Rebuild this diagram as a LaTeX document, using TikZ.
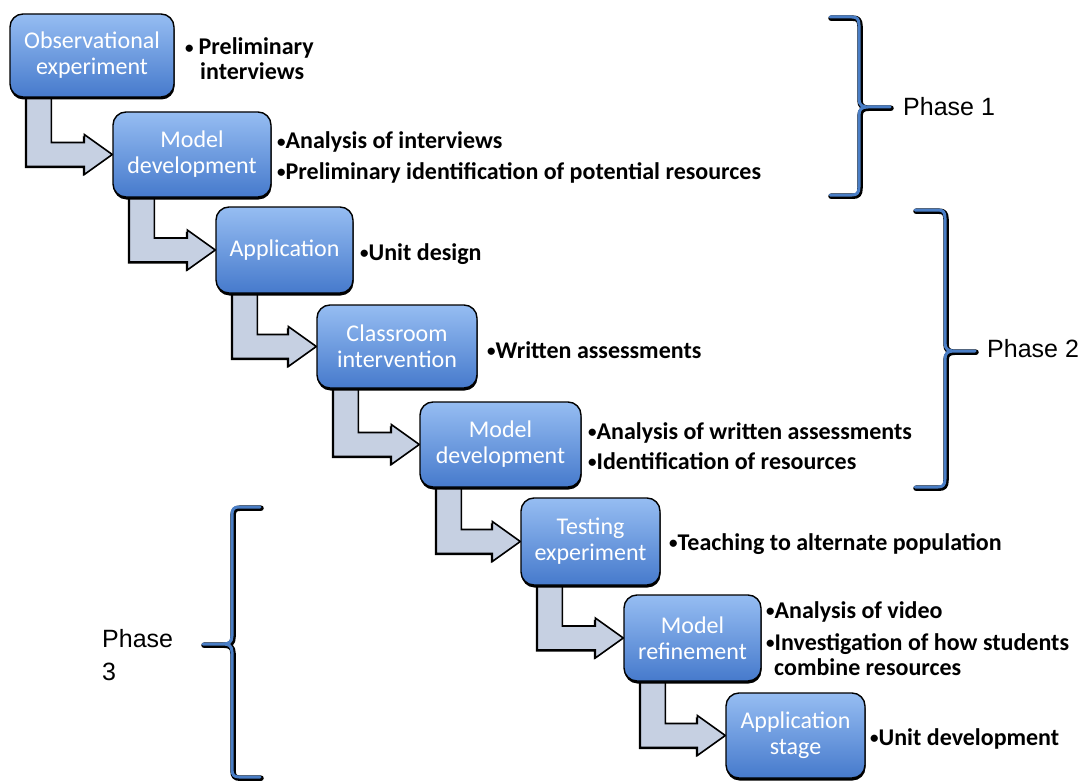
\documentclass[tikz,border=0pt]{standalone}
\usepackage{fontspec}
\setmainfont{Carlito}
\newfontfamily\phasefont{Liberation Sans}
\usetikzlibrary{calc,shadows,backgrounds}
\definecolor{boxtop}{RGB}{150,189,242}
\definecolor{boxbot}{RGB}{70,122,204}
\definecolor{arrowfill}{RGB}{198,208,226}
\definecolor{braceblue}{RGB}{74,126,198}
\newcommand\bul{\raisebox{1.2pt}{\fontsize{17}{17}\selectfont •}}
\tikzset{
  stagebox/.style={rounded corners=13pt, top color=boxtop, bottom color=boxbot,
    draw=black, line width=1.4pt,
    drop shadow={shadow xshift=0.5pt, shadow yshift=-2.5pt, fill=black, opacity=1},
    text=white, align=center, font=\fontsize{24}{26}\selectfont, inner sep=0pt},
  note/.style={anchor=base west, inner sep=0pt, font=\fontsize{24}{26}\selectfont\bfseries},
  phase/.style={anchor=base west, inner sep=0pt, font=\phasefont\fontsize{25}{30}\selectfont},
  elbow/.style={fill=arrowfill, draw=black, line width=1.6pt, line join=miter,
    drop shadow={shadow xshift=-1.5pt, shadow yshift=-1.5pt, fill=black, opacity=1}},
  braceback/.style={draw=black, line width=5.5pt, line cap=round, line join=round, xshift=1pt, yshift=-1.2pt},
  bracefront/.style={draw=braceblue, line width=3pt, line cap=round, line join=round},
}
\newcommand\elbowarrow[2]{%
  \path[elbow] let \p1=(#1.south west), \p2=(#2.west) in
    ({\x1+17pt},{\y1+3pt}) -- ({\x1+17pt},{\y2-12pt}) -- ({\x2-28pt},{\y2-12pt})
    -- ({\x2-28pt},{\y2-20pt}) -- (\x2,\y2) -- ({\x2-28pt},{\y2+20pt})
    -- ({\x2-28pt},{\y2+12pt}) -- ({\x1+42pt},{\y2+12pt}) -- ({\x1+42pt},{\y1+3pt}) -- cycle;}
\newcommand\phasebrace[6]{%
  \pgfmathsetmacro\brsgn{sign(#2-#1)}%
  \foreach \sty in {braceback,bracefront}{%
    \draw[\sty] (#1,#4) -- ({#2-7*\brsgn},#4) .. controls ({#2-2*\brsgn},#4) and (#2,{#4+2}) .. (#2,{#4+8})
      -- (#2,{#5-8}) .. controls (#2,{#5-2}) and ({#2+3*\brsgn},#5) .. ({#2+9*\brsgn},#5) -- (#3,#5)
      ({#2+9*\brsgn},#5) .. controls ({#2+3*\brsgn},#5) and (#2,{#5+2}) .. (#2,{#5+8})
      -- (#2,{#6-8}) .. controls (#2,{#6-2}) and ({#2-2*\brsgn},#6) .. ({#2-7*\brsgn},#6) -- (#1,#6);}}
\begin{document}
\begin{tikzpicture}[x=1pt,y=-1pt]
\useasboundingbox (0,0) rectangle (1092,781);
% stage boxes
\node[stagebox, minimum width=164pt, minimum height=83pt] (s1) at (92,55.5) {Observational\\experiment};
\node[stagebox, minimum width=158pt, minimum height=85pt] (s2) at (192,154.5) {Model\\development};
\node[stagebox, minimum width=137pt, minimum height=86pt] (s3) at (284.5,250) {Application};
\node[stagebox, minimum width=160pt, minimum height=83pt] (s4) at (397,346.5) {Classroom\\intervention};
\node[stagebox, minimum width=161pt, minimum height=85pt] (s5) at (500.5,444.5) {Model\\development};
\node[stagebox, minimum width=139pt, minimum height=87pt] (s6) at (590.5,541.5) {Testing\\experiment};
\node[stagebox, minimum width=137pt, minimum height=86pt] (s7) at (692.5,638) {Model\\refinement};
\node[stagebox, minimum width=139pt, minimum height=85pt] (s8) at (795.5,735.5) {Application\\stage};
% notes
\node[note] (n1a) at (185,55) {\bul\hspace{5pt}Preliminary};
\node[note] (n1b) at (200,80) {interviews};
\node[note] (n2a) at (277,149) {\bul Analysis of interviews};
\node[note] (n2b) at (277,179) {\bul Preliminary identification of potential resources};
\node[note] (n3) at (360,260) {\bul Unit design};
\node[note] (n4) at (487,358) {\bul Written assessments};
\node[note] (n5a) at (588,439) {\bul Analysis of written assessments};
\node[note] (n5b) at (588,469) {\bul Identification of resources};
\node[note] (n6) at (669,550) {\bul Teaching to alternate population};
\node[note] (n7a) at (766,618) {\bul Analysis of video};
\node[note] (n7b) at (766,650) {\bul Investigation of how students};
\node[note] (n7c) at (774,675) {combine resources};
\node[note] (n8) at (870,745) {\bul Unit development};
% phases
\node[phase] (p1) at (903,116) {Phase 1};
\node[phase] (p2) at (987,357) {Phase 2};
\node[phase] (p3a) at (102,647) {Phase};
\node[phase] (p3b) at (102,680) {3};
\phasebrace{830}{859}{890}{17}{107}{195}
\phasebrace{915}{945}{975}{210}{351}{487}
\phasebrace{260}{232}{203}{507}{644}{777}
% arrows
\begin{scope}[on background layer]
\fill[white] (0,0) rectangle (1092,781);
\elbowarrow{s1}{s2}
\elbowarrow{s2}{s3}
\elbowarrow{s3}{s4}
\elbowarrow{s4}{s5}
\elbowarrow{s5}{s6}
\elbowarrow{s6}{s7}
\elbowarrow{s7}{s8}
\end{scope}
\end{tikzpicture}
\end{document}
